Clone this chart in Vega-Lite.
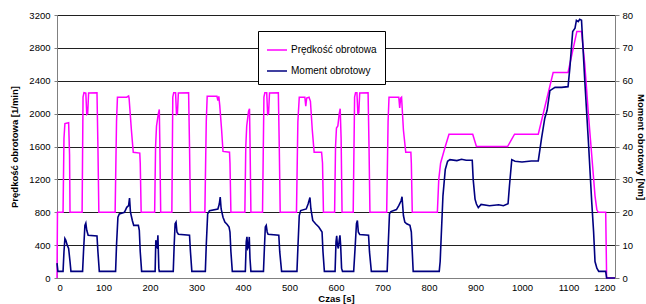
{
  "$schema": "https://vega.github.io/schema/vega-lite/v6.json",
  "width": 558,
  "height": 263,
  "autosize": {"type": "none"},
  "padding": {"left": 57, "top": 15, "right": 31, "bottom": 26},
  "background": "white",
  "config": {
    "view": {"stroke": "#b0b0b0", "strokeWidth": 1},
    "font": "Liberation Sans",
    "axis": {
      "labelFont": "Liberation Sans",
      "labelFontSize": 9.5,
      "labelColor": "#000000",
      "titleFont": "Liberation Sans",
      "titleFontSize": 9.5,
      "titleFontWeight": "bold",
      "titleColor": "#000000",
      "domainColor": "#808080",
      "tickColor": "#808080",
      "gridColor": "#202020",
      "gridWidth": 1
    }
  },
  "datasets": {
    "speed": [
      {"t": 0, "v": 0}, {"t": 1, "v": 800}, {"t": 13, "v": 800}, {"t": 15, "v": 1700}, {"t": 17, "v": 1880}, {"t": 25, "v": 1890}, {"t": 27, "v": 1500}, {"t": 28, "v": 800},
      {"t": 54, "v": 800}, {"t": 56, "v": 2200}, {"t": 58, "v": 2255}, {"t": 62, "v": 2250}, {"t": 64, "v": 1990}, {"t": 66, "v": 2000}, {"t": 68, "v": 2250}, {"t": 86, "v": 2255}, {"t": 88, "v": 1600}, {"t": 90, "v": 800},
      {"t": 125, "v": 800}, {"t": 128, "v": 1900}, {"t": 130, "v": 2200}, {"t": 150, "v": 2200}, {"t": 154, "v": 2215}, {"t": 155, "v": 2190}, {"t": 160, "v": 1800}, {"t": 164, "v": 1530}, {"t": 178, "v": 1520}, {"t": 179, "v": 1400}, {"t": 181, "v": 800},
      {"t": 210, "v": 800}, {"t": 212, "v": 1600}, {"t": 214, "v": 1850}, {"t": 218, "v": 2000}, {"t": 220, "v": 2050}, {"t": 221, "v": 1700}, {"t": 223, "v": 800},
      {"t": 247, "v": 800}, {"t": 249, "v": 2200}, {"t": 251, "v": 2255}, {"t": 255, "v": 2255}, {"t": 257, "v": 1990}, {"t": 259, "v": 2000}, {"t": 261, "v": 2250}, {"t": 283, "v": 2255}, {"t": 285, "v": 1600}, {"t": 287, "v": 800},
      {"t": 318, "v": 800}, {"t": 321, "v": 1900}, {"t": 323, "v": 2210}, {"t": 344, "v": 2210}, {"t": 346, "v": 2160}, {"t": 348, "v": 2210}, {"t": 350, "v": 2100}, {"t": 354, "v": 1800}, {"t": 357, "v": 1540}, {"t": 371, "v": 1530}, {"t": 372, "v": 1400}, {"t": 374, "v": 800},
      {"t": 404, "v": 800}, {"t": 406, "v": 1600}, {"t": 408, "v": 1850}, {"t": 412, "v": 2030}, {"t": 414, "v": 2060}, {"t": 415, "v": 1700}, {"t": 417, "v": 800},
      {"t": 442, "v": 800}, {"t": 445, "v": 2200}, {"t": 447, "v": 2255}, {"t": 451, "v": 2255}, {"t": 453, "v": 1990}, {"t": 455, "v": 2000}, {"t": 457, "v": 2250}, {"t": 476, "v": 2255}, {"t": 478, "v": 1600}, {"t": 480, "v": 800},
      {"t": 515, "v": 800}, {"t": 518, "v": 1900}, {"t": 521, "v": 2200}, {"t": 533, "v": 2200}, {"t": 535, "v": 2090}, {"t": 537, "v": 2190}, {"t": 542, "v": 2200}, {"t": 545, "v": 2150}, {"t": 549, "v": 1800}, {"t": 553, "v": 1530}, {"t": 569, "v": 1530}, {"t": 571, "v": 1400}, {"t": 573, "v": 800},
      {"t": 597, "v": 800}, {"t": 599, "v": 1600}, {"t": 601, "v": 1825}, {"t": 604, "v": 1850}, {"t": 607, "v": 2000}, {"t": 609, "v": 2060}, {"t": 611, "v": 1700}, {"t": 613, "v": 800},
      {"t": 637, "v": 800}, {"t": 640, "v": 2200}, {"t": 642, "v": 2255}, {"t": 645, "v": 2255}, {"t": 647, "v": 2000}, {"t": 649, "v": 2010}, {"t": 651, "v": 2250}, {"t": 669, "v": 2255}, {"t": 671, "v": 1600}, {"t": 673, "v": 800},
      {"t": 709, "v": 800}, {"t": 712, "v": 1900}, {"t": 714, "v": 2200}, {"t": 735, "v": 2200}, {"t": 737, "v": 2070}, {"t": 739, "v": 2190}, {"t": 741, "v": 2200}, {"t": 745, "v": 1800}, {"t": 750, "v": 1530}, {"t": 761, "v": 1530}, {"t": 762, "v": 1400}, {"t": 764, "v": 800},
      {"t": 818, "v": 800}, {"t": 821, "v": 1200}, {"t": 825, "v": 1400}, {"t": 835, "v": 1600}, {"t": 843, "v": 1750}, {"t": 894, "v": 1750}, {"t": 902, "v": 1600}, {"t": 969, "v": 1600}, {"t": 984, "v": 1750}, {"t": 1035, "v": 1750}, {"t": 1067, "v": 2500}, {"t": 1099, "v": 2500}, {"t": 1118, "v": 3000}, {"t": 1128, "v": 3000}, {"t": 1135, "v": 2600}, {"t": 1143, "v": 1980}, {"t": 1150, "v": 1490}, {"t": 1157, "v": 1000}, {"t": 1161, "v": 830}, {"t": 1164, "v": 800}, {"t": 1180, "v": 800}, {"t": 1182, "v": 0}, {"t": 1200, "v": 0}
    ],
    "torque": [
      {"t": 0, "v": 4.5}, {"t": 2, "v": 2}, {"t": 13, "v": 2}, {"t": 15, "v": 8}, {"t": 17, "v": 12}, {"t": 19, "v": 11.5}, {"t": 22, "v": 10}, {"t": 25, "v": 9}, {"t": 28, "v": 5}, {"t": 30, "v": 2},
      {"t": 55, "v": 2}, {"t": 57, "v": 8}, {"t": 60, "v": 16}, {"t": 62, "v": 16.7}, {"t": 64, "v": 14.5}, {"t": 67, "v": 13}, {"t": 86, "v": 12.8}, {"t": 88, "v": 8}, {"t": 91, "v": 2},
      {"t": 126, "v": 2}, {"t": 128, "v": 10}, {"t": 131, "v": 18.5}, {"t": 134, "v": 19.5}, {"t": 145, "v": 20}, {"t": 150, "v": 21.5}, {"t": 154, "v": 22}, {"t": 156, "v": 24.3}, {"t": 158, "v": 20}, {"t": 162, "v": 17.5}, {"t": 165, "v": 16}, {"t": 175, "v": 16}, {"t": 177, "v": 14.5}, {"t": 179, "v": 8}, {"t": 182, "v": 2},
      {"t": 211, "v": 2}, {"t": 212.5, "v": 11.5}, {"t": 214, "v": 9.5}, {"t": 215.5, "v": 9.2}, {"t": 217, "v": 13}, {"t": 219, "v": 3}, {"t": 220, "v": 2},
      {"t": 250, "v": 2}, {"t": 252, "v": 10}, {"t": 254, "v": 16.5}, {"t": 256, "v": 17}, {"t": 258, "v": 14}, {"t": 261, "v": 13.3}, {"t": 285, "v": 13}, {"t": 287, "v": 8}, {"t": 290, "v": 2},
      {"t": 319, "v": 2}, {"t": 321, "v": 10}, {"t": 324, "v": 19.5}, {"t": 328, "v": 20.5}, {"t": 346, "v": 21}, {"t": 349, "v": 22.5}, {"t": 351, "v": 24.6}, {"t": 353, "v": 21}, {"t": 357, "v": 18.5}, {"t": 361, "v": 17}, {"t": 366, "v": 16.3}, {"t": 370, "v": 15.5}, {"t": 372, "v": 14}, {"t": 374, "v": 8}, {"t": 377, "v": 2},
      {"t": 405, "v": 2}, {"t": 407, "v": 11}, {"t": 408.5, "v": 12.5}, {"t": 410, "v": 9}, {"t": 412, "v": 9.5}, {"t": 413.5, "v": 12.5}, {"t": 415, "v": 6}, {"t": 417, "v": 2},
      {"t": 444, "v": 2}, {"t": 446, "v": 9}, {"t": 448, "v": 15.5}, {"t": 450, "v": 16}, {"t": 452, "v": 14}, {"t": 454, "v": 13.3}, {"t": 477, "v": 13}, {"t": 479, "v": 8}, {"t": 483, "v": 2},
      {"t": 516, "v": 2}, {"t": 518, "v": 9}, {"t": 521, "v": 19}, {"t": 524, "v": 20.5}, {"t": 536, "v": 21}, {"t": 540, "v": 22.5}, {"t": 544, "v": 24.5}, {"t": 546, "v": 21}, {"t": 550, "v": 17.5}, {"t": 556, "v": 16.5}, {"t": 563, "v": 15.5}, {"t": 570, "v": 14}, {"t": 572, "v": 8}, {"t": 575, "v": 2},
      {"t": 598, "v": 2}, {"t": 600, "v": 11}, {"t": 601.5, "v": 12.8}, {"t": 603, "v": 10}, {"t": 605, "v": 9}, {"t": 607, "v": 11.5}, {"t": 608.5, "v": 13}, {"t": 610, "v": 10}, {"t": 612, "v": 3}, {"t": 614, "v": 2},
      {"t": 638, "v": 2}, {"t": 641, "v": 9}, {"t": 644, "v": 16.5}, {"t": 646, "v": 17.5}, {"t": 648, "v": 14}, {"t": 651, "v": 13.2}, {"t": 670, "v": 13}, {"t": 672, "v": 8}, {"t": 676, "v": 2},
      {"t": 710, "v": 2}, {"t": 712, "v": 9}, {"t": 715, "v": 19.5}, {"t": 718, "v": 20.2}, {"t": 730, "v": 20.8}, {"t": 735, "v": 22}, {"t": 740, "v": 23.5}, {"t": 742, "v": 24.7}, {"t": 745, "v": 19}, {"t": 748, "v": 17}, {"t": 752, "v": 16.5}, {"t": 759, "v": 16}, {"t": 762, "v": 14}, {"t": 764, "v": 8}, {"t": 766, "v": 2},
      {"t": 822, "v": 2}, {"t": 824, "v": 5}, {"t": 830, "v": 25}, {"t": 835, "v": 33}, {"t": 840, "v": 35.5}, {"t": 845, "v": 36}, {"t": 860, "v": 35.7}, {"t": 870, "v": 36.1}, {"t": 880, "v": 35.8}, {"t": 893, "v": 35.8}, {"t": 895, "v": 30}, {"t": 899, "v": 24}, {"t": 902, "v": 22.5}, {"t": 906, "v": 21.4}, {"t": 912, "v": 22.4}, {"t": 930, "v": 22}, {"t": 950, "v": 22.3}, {"t": 960, "v": 22}, {"t": 970, "v": 22.6}, {"t": 973, "v": 28}, {"t": 978, "v": 36}, {"t": 985, "v": 35.5}, {"t": 1000, "v": 35.3}, {"t": 1020, "v": 35.6}, {"t": 1035, "v": 35.6},
      {"t": 1042, "v": 42.5}, {"t": 1049, "v": 48.6}, {"t": 1054, "v": 51}, {"t": 1060, "v": 57}, {"t": 1071, "v": 58}, {"t": 1085, "v": 58}, {"t": 1099, "v": 58.2}, {"t": 1103, "v": 64}, {"t": 1109, "v": 75}, {"t": 1114, "v": 76}, {"t": 1117, "v": 78.4}, {"t": 1121, "v": 78}, {"t": 1124, "v": 78.7}, {"t": 1128, "v": 78.4},
      {"t": 1135, "v": 60}, {"t": 1143, "v": 41}, {"t": 1150, "v": 23}, {"t": 1154, "v": 14}, {"t": 1157, "v": 5}, {"t": 1161, "v": 3}, {"t": 1165, "v": 2}, {"t": 1180, "v": 2}, {"t": 1182, "v": 0}, {"t": 1200, "v": 0}
    ]
  },
  "layer": [
    {
      "data": {"name": "speed"},
      "mark": {"type": "line", "strokeWidth": 1.5},
      "encoding": {
        "x": {
          "field": "t", "type": "quantitative",
          "scale": {"domain": [0, 1200], "nice": false},
          "axis": {"title": "Czas [s]", "format": "d", "values": [0,100,200,300,400,500,600,700,800,900,1000,1100,1200], "grid": false, "ticks": false, "labelPadding": 4, "titlePadding": 2}
        },
        "y": {
          "field": "v", "type": "quantitative",
          "scale": {"domain": [0, 3200], "nice": false},
          "axis": {"title": "Prędkość obrotowa [1/min]", "format": "d", "orient": "left", "values": [0,400,800,1200,1600,2000,2400,2800,3200], "grid": true, "tickSize": 3, "labelPadding": 4, "titlePadding": 9}
        },
        "color": {
          "datum": "Prędkość obrotowa", "type": "nominal",
          "scale": {"domain": ["Prędkość obrotowa", "Moment obrotowy"], "range": ["#ff00ff", "#000080"]},
          "legend": {
            "title": null, "orient": "none", "legendX": 201, "legendY": 16,
            "direction": "vertical", "strokeColor": "#000000", "fillColor": "#ffffff",
            "padding": 8, "symbolType": "stroke", "symbolSize": 400, "symbolStrokeWidth": 1.5,
            "labelFont": "Liberation Sans", "labelFontSize": 10, "labelColor": "#000000", "rowPadding": 5, "labelOffset": 3
          }
        }
      }
    },
    {
      "data": {"name": "torque"},
      "mark": {"type": "line", "strokeWidth": 1.6},
      "encoding": {
        "x": {"field": "t", "type": "quantitative", "scale": {"domain": [0, 1200], "nice": false}},
        "y": {
          "field": "v", "type": "quantitative",
          "scale": {"domain": [0, 80], "nice": false},
          "axis": {"title": "Moment obrotowy [Nm]", "format": "d", "orient": "right", "values": [0,10,20,30,40,50,60,70,80], "grid": false, "tickSize": 4, "labelPadding": 3, "titlePadding": 3}
        },
        "color": {"datum": "Moment obrotowy", "type": "nominal"}
      }
    }
  ],
  "resolve": {"scale": {"y": "independent"}}
}
